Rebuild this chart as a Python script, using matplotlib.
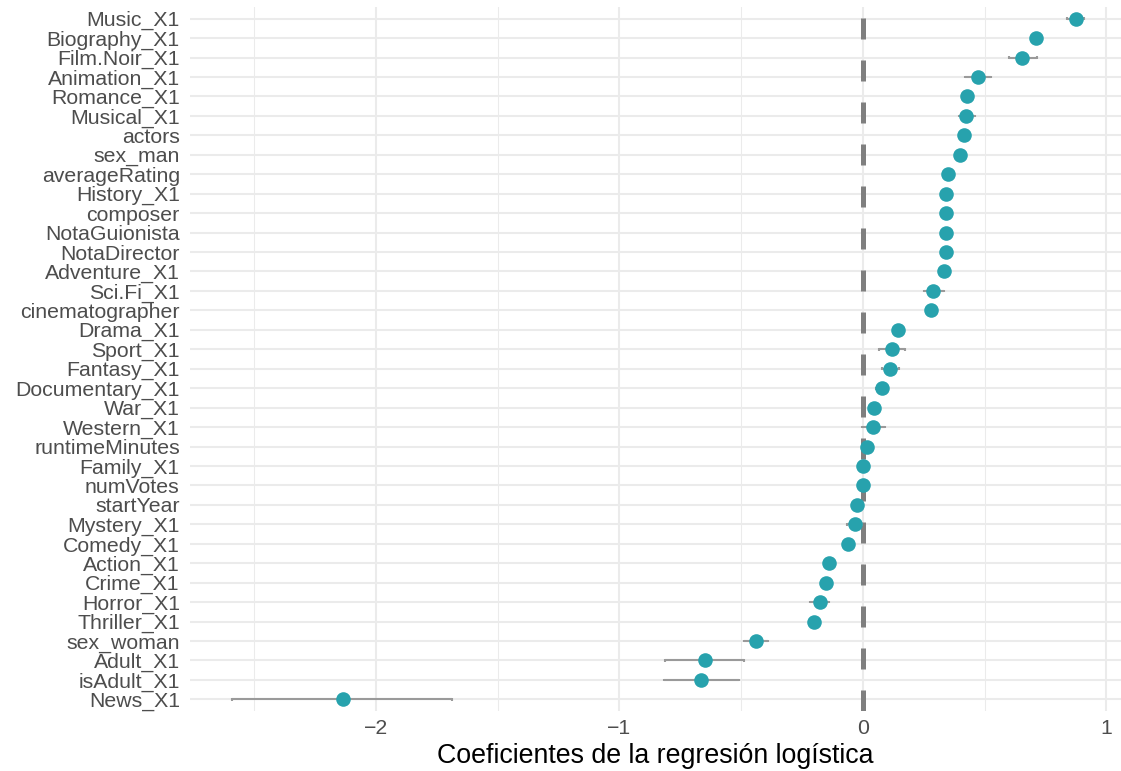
import matplotlib
matplotlib.use("Agg")
import matplotlib.pyplot as plt
from matplotlib.ticker import MultipleLocator

plt.rcParams['font.family'] = ['Liberation Sans', 'DejaVu Sans']

# Variables in plot order, top to bottom
variables = [
    "Music_X1", "Biography_X1", "Film.Noir_X1", "Animation_X1", "Romance_X1",
    "Musical_X1", "actors", "sex_man", "averageRating", "History_X1",
    "composer", "NotaGuionista", "NotaDirector", "Adventure_X1", "Sci.Fi_X1",
    "cinematographer", "Drama_X1", "Sport_X1", "Fantasy_X1", "Documentary_X1",
    "War_X1", "Western_X1", "runtimeMinutes", "Family_X1", "numVotes",
    "startYear", "Mystery_X1", "Comedy_X1", "Action_X1", "Crime_X1",
    "Horror_X1", "Thriller_X1", "sex_woman", "Adult_X1", "isAdult_X1", "News_X1",
]

coef = [
    0.875, 0.710, 0.653, 0.472, 0.427,
    0.423, 0.415, 0.398, 0.349, 0.341,
    0.341, 0.340, 0.340, 0.333, 0.287,
    0.278, 0.144, 0.119, 0.111, 0.078,
    0.046, 0.040, 0.015, 0.001, 0.001,
    -0.026, -0.034, -0.060, -0.140, -0.153,
    -0.177, -0.199, -0.438, -0.650, -0.666, -2.136,
]

ci_low = [
    0.840, 0.700, 0.600, 0.420, 0.417,
    0.395, 0.408, 0.392, 0.344, 0.336,
    0.336, 0.335, 0.335, 0.326, 0.250,
    0.272, 0.138, 0.066, 0.078, 0.055,
    0.038, -0.004, 0.008, -0.004, -0.004,
    -0.031, -0.065, -0.066, -0.146, -0.159,
    -0.217, -0.205, -0.488, -0.815, -0.819, -2.591,
]

ci_high = [
    0.910, 0.720, 0.715, 0.525, 0.437,
    0.460, 0.422, 0.404, 0.354, 0.346,
    0.346, 0.345, 0.345, 0.340, 0.333,
    0.284, 0.150, 0.172, 0.148, 0.100,
    0.054, 0.090, 0.022, 0.006, 0.006,
    -0.021, -0.003, -0.054, -0.134, -0.147,
    -0.140, -0.193, -0.388, -0.489, -0.511, -1.689,
]

W, H = 1121, 771
fig = plt.figure(figsize=(W / 100, H / 100), dpi=100)
ax = fig.add_axes([189.5 / W, 1 - 711 / H, (1121 - 189.5) / W, (711 - 7) / H])

n = len(variables)
ypos = [n - 1 - i for i in range(n)]

ax.set_xlim(-2.766, 1.06)
ax.set_ylim(-0.6, n - 1 + 0.6)

# grid
ax.xaxis.set_major_locator(MultipleLocator(1))
ax.xaxis.set_minor_locator(MultipleLocator(0.5))
ax.grid(True, which="major", axis="both", color="#EBEBEB", linewidth=1.5, zorder=0)
ax.grid(True, which="minor", axis="x", color="#EBEBEB", linewidth=0.75, zorder=0)
ax.set_axisbelow(True)
for s in ax.spines.values():
    s.set_visible(False)

# reference line at zero
ax.axvline(0, color="#7F7F7F", linewidth=3.6, linestyle=(0, (4.2, 4.2)), zorder=1)

# confidence intervals
ax.hlines(ypos, ci_low, ci_high, color="#9A9A9A", linewidth=1.5, zorder=2)
cap = 0.07
ax.vlines(ci_low, [y - cap for y in ypos], [y + cap for y in ypos],
          color="#9A9A9A", linewidth=1.5, zorder=2)
ax.vlines(ci_high, [y - cap for y in ypos], [y + cap for y in ypos],
          color="#9A9A9A", linewidth=1.5, zorder=2)

# point estimates
ax.plot(coef, ypos, "o", color="#27A2AD", markersize=10.5, markeredgewidth=0, zorder=3)

ax.set_yticks(ypos)
ax.set_yticklabels(variables)
ax.set_xticks([-2, -1, 0, 1])
ax.set_xticklabels(["\u22122", "\u22121", "0", "1"])
ax.tick_params(axis="both", which="both", length=0, labelsize=15.3, labelcolor="#4D4D4D")
ax.tick_params(axis="y", pad=7)
ax.tick_params(axis="x", pad=6)

ax.set_xlabel("Coeficientes de la regresión logística", fontsize=19.3,
              color="black", labelpad=3.5)

fig.savefig("out.png", dpi=100)
